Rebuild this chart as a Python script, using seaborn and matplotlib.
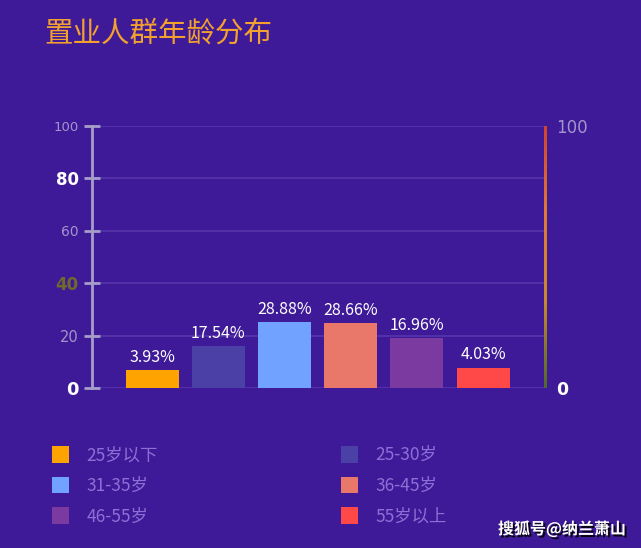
import numpy as np
import pandas as pd
import matplotlib
matplotlib.use("Agg")
import matplotlib.pyplot as plt
import matplotlib.patheffects as pe
from matplotlib.patches import Patch
from matplotlib.colors import LinearSegmentedColormap
import seaborn as sns

# ---- data ----
categories = ["25岁以下", "25-30岁", "31-35岁", "36-45岁", "46-55岁", "55岁以上"]
bar_heights = [6.7, 16.1, 25.1, 24.7, 18.9, 7.8]          # drawn heights
value_labels = ["3.93%", "17.54%", "28.88%", "28.66%", "16.96%", "4.03%"]
bar_colors = ["#ffa300", "#4b40a6", "#72a2ff", "#e9776a", "#7a3a9f", "#ff4949"]
left_ticks = [0, 20, 40, 60, 80, 100]
right_ticks = [0, 100]
title = "置业人群年龄分布"
watermark = "搜狐号@纳兰萧山"

BG = "#3e1a98"
sns.set_theme(style="white")
plt.rcParams["font.family"] = ["Noto Sans CJK SC", "DejaVu Sans"]

fig = plt.figure(figsize=(6.41, 5.48), dpi=100)
fig.patch.set_facecolor(BG)
ax = fig.add_axes([92 / 641, 1 - 388 / 548, (544 - 92) / 641, (388 - 126) / 548])
ax.set_facecolor(BG)

df = pd.DataFrame({"cat": categories, "h": bar_heights})
sns.barplot(data=df, x="cat", y="h", hue="cat", palette=bar_colors, width=0.8,
            saturation=1, legend=False, ax=ax, zorder=3, edgecolor="none", linewidth=0)

ax.set_xlim(-0.91, 5.92)
ax.set_ylim(0, 100)
ax.set_xlabel("")
ax.set_ylabel("")
ax.set_xticks([])
ax.set_yticks(left_ticks)
ax.yaxis.grid(True, color="#5838ae", lw=1.1, zorder=0)
ax.set_axisbelow(True)
for s in ["top", "right", "bottom"]:
    ax.spines[s].set_visible(False)
ax.spines["left"].set_color("#a69ec8")
ax.spines["left"].set_linewidth(2)
ax.tick_params(axis="y", direction="inout", length=11, width=2, color="#a69ec8", pad=4)

label_styles = {
    0: ("#ffffff", 13, "bold"),
    20: ("#a395cc", 10.5, "normal"),
    40: ("#6e6a2c", 12, "bold"),
    60: ("#a395cc", 10, "normal"),
    80: ("#ffffff", 12, "bold"),
    100: ("#a395cc", 9.5, "normal"),
}
ax.set_yticklabels([str(t) for t in left_ticks])
for t, lab in zip(left_ticks, ax.get_yticklabels()):
    c, s, w = label_styles[t]
    lab.set_color(c)
    lab.set_fontsize(s)
    lab.set_fontweight(w)
    lab.set_family(["DejaVu Sans"])

# value labels
for i, (h, txt) in enumerate(zip(bar_heights, value_labels)):
    ax.annotate(txt, (i, h), xytext=(0, 3), textcoords="offset points",
                ha="center", va="bottom", color="white", fontsize=11.5, zorder=5)

# right axis
ax2 = ax.twinx()
ax2.set_ylim(0, 100)
ax2.set_yticks(right_ticks)
ax2.set_yticklabels([str(t) for t in right_ticks])
for s in ax2.spines.values():
    s.set_visible(False)
ax2.tick_params(axis="y", length=0, pad=9)
r_styles = {0: ("#ffffff", 12.5, "bold"), 100: ("#a395cc", 12, "normal")}
for t, lab in zip(right_ticks, ax2.get_yticklabels()):
    c, s, w = r_styles[t]
    lab.set_color(c)
    lab.set_fontsize(s)
    lab.set_fontweight(w)
    lab.set_family(["DejaVu Sans"])

# gradient line on the right edge
gax = fig.add_axes([543.5 / 641, 1 - 388 / 548, 3 / 641, (388 - 126) / 548])
gax.set_axis_off()
cmap = LinearSegmentedColormap.from_list("g", ["#4f6a2a", "#c98a2a", "#e07a35", "#cf432f"])
grad = np.linspace(0, 1, 256).reshape(-1, 1)
gax.imshow(grad, aspect="auto", cmap=cmap, origin="lower", extent=[0, 1, 0, 1])

# title
fig.text(44 / 641, 1 - 34 / 548, title, color="#f2a12e", fontsize=20.5,
         fontweight="medium", ha="left", va="center")

# legend (two columns, row-wise order)
handles = [Patch(facecolor=c, edgecolor="none") for c in bar_colors]
common = dict(frameon=False, fontsize=12.5, labelcolor="#8d70d6", handlelength=1.0,
              handleheight=1.1, handletextpad=1.0, labelspacing=0.72,
              borderpad=0, borderaxespad=0, loc="upper left")
leg1 = fig.legend([handles[0], handles[2], handles[4]],
                  [categories[0], categories[2], categories[4]],
                  bbox_to_anchor=(52 / 641, 1 - 446 / 548), **common)
leg2 = fig.legend([handles[1], handles[3], handles[5]],
                  [categories[1], categories[3], categories[5]],
                  bbox_to_anchor=(341 / 641, 1 - 446 / 548), **common)

# watermark
fig.text(626 / 641, 1 - 529 / 548, watermark, color="white", fontsize=11.5,
         fontweight="bold", ha="right", va="center",
         path_effects=[pe.withSimplePatchShadow(offset=(1.5, -1.5),
                                                shadow_rgbFace="black", alpha=0.9)])

fig.savefig("out.png", dpi=100, facecolor=BG)
